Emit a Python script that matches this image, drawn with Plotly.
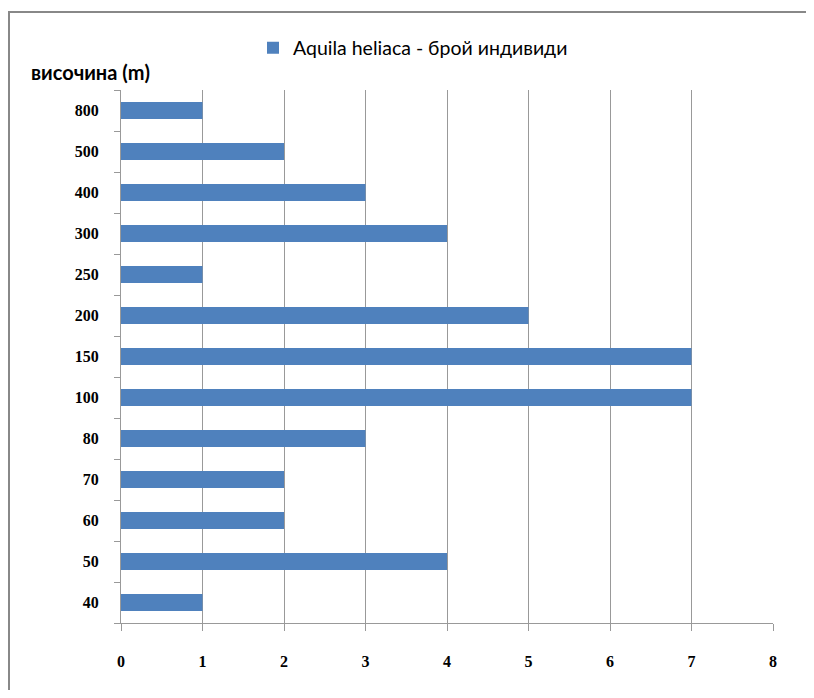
import plotly.graph_objects as go

categories = ["40", "50", "60", "70", "80", "100", "150", "200", "250", "300", "400", "500", "800"]
values = [1, 4, 2, 2, 3, 7, 7, 5, 1, 4, 3, 2, 1]
series_name = "Aquila heliaca - брой индивиди"
y_title = "височина (m)"

# page body has an 8px default margin; figure sized to fit the window
W, H = 806, 682
L, R, T, B = 113, 41, 82, 67
pw, ph = W - L - R, H - T - B

def px(x):
    return (x - L) / pw

def py(y):
    return 1 - (y - T) / ph

fig = go.Figure()
fig.add_trace(go.Bar(
    y=categories, x=values, orientation="h", name=series_name,
    marker=dict(color="#4F81BD", line=dict(width=0)),
    showlegend=True,
))

axis_color = "#999999"
tickfont = dict(family="Liberation Serif, DejaVu Serif, serif", size=16, color="#000000", weight="bold")
sans = "Lato, Open Sans, sans-serif"

fig.update_layout(
    width=W, height=H,
    margin=dict(l=L, r=R, t=T, b=B),
    paper_bgcolor="white", plot_bgcolor="white",
    bargap=0.58,
    xaxis=dict(
        range=[0, 8], dtick=1, tick0=0,
        showgrid=True, gridcolor=axis_color, gridwidth=1,
        showline=True, linecolor=axis_color, linewidth=1,
        ticks="outside", ticklen=7, tickcolor=axis_color,
        ticklabelstandoff=17,
        tickfont=tickfont, zeroline=False, fixedrange=True,
    ),
    yaxis=dict(
        type="category", categoryorder="array", categoryarray=categories,
        showgrid=False,
        showline=True, linecolor=axis_color, linewidth=1,
        ticks="outside", ticklen=6, tickcolor=axis_color,
        tickson="boundaries", ticklabelstandoff=18,
        tickfont=tickfont, fixedrange=True,
    ),
    legend=dict(
        x=px(245), y=py(40), xanchor="left", yanchor="middle",
        orientation="h",
        font=dict(family=sans, size=19.5, color="#000000"),
        itemwidth=30, bgcolor="rgba(0,0,0,0)",
    ),
    annotations=[dict(
        text=y_title, xref="paper", yref="paper",
        x=px(21), y=py(64), xanchor="left", yanchor="middle",
        showarrow=False,
        font=dict(family=sans, size=20, color="#000000", weight="bold"),
    )],
    shapes=[dict(
        type="rect", xref="paper", yref="paper",
        x0=px(1), x1=px(830), y0=py(720), y1=py(4),
        line=dict(color="#888888", width=2), fillcolor="rgba(0,0,0,0)", layer="below",
    )],
)

fig.write_html("out.html")
